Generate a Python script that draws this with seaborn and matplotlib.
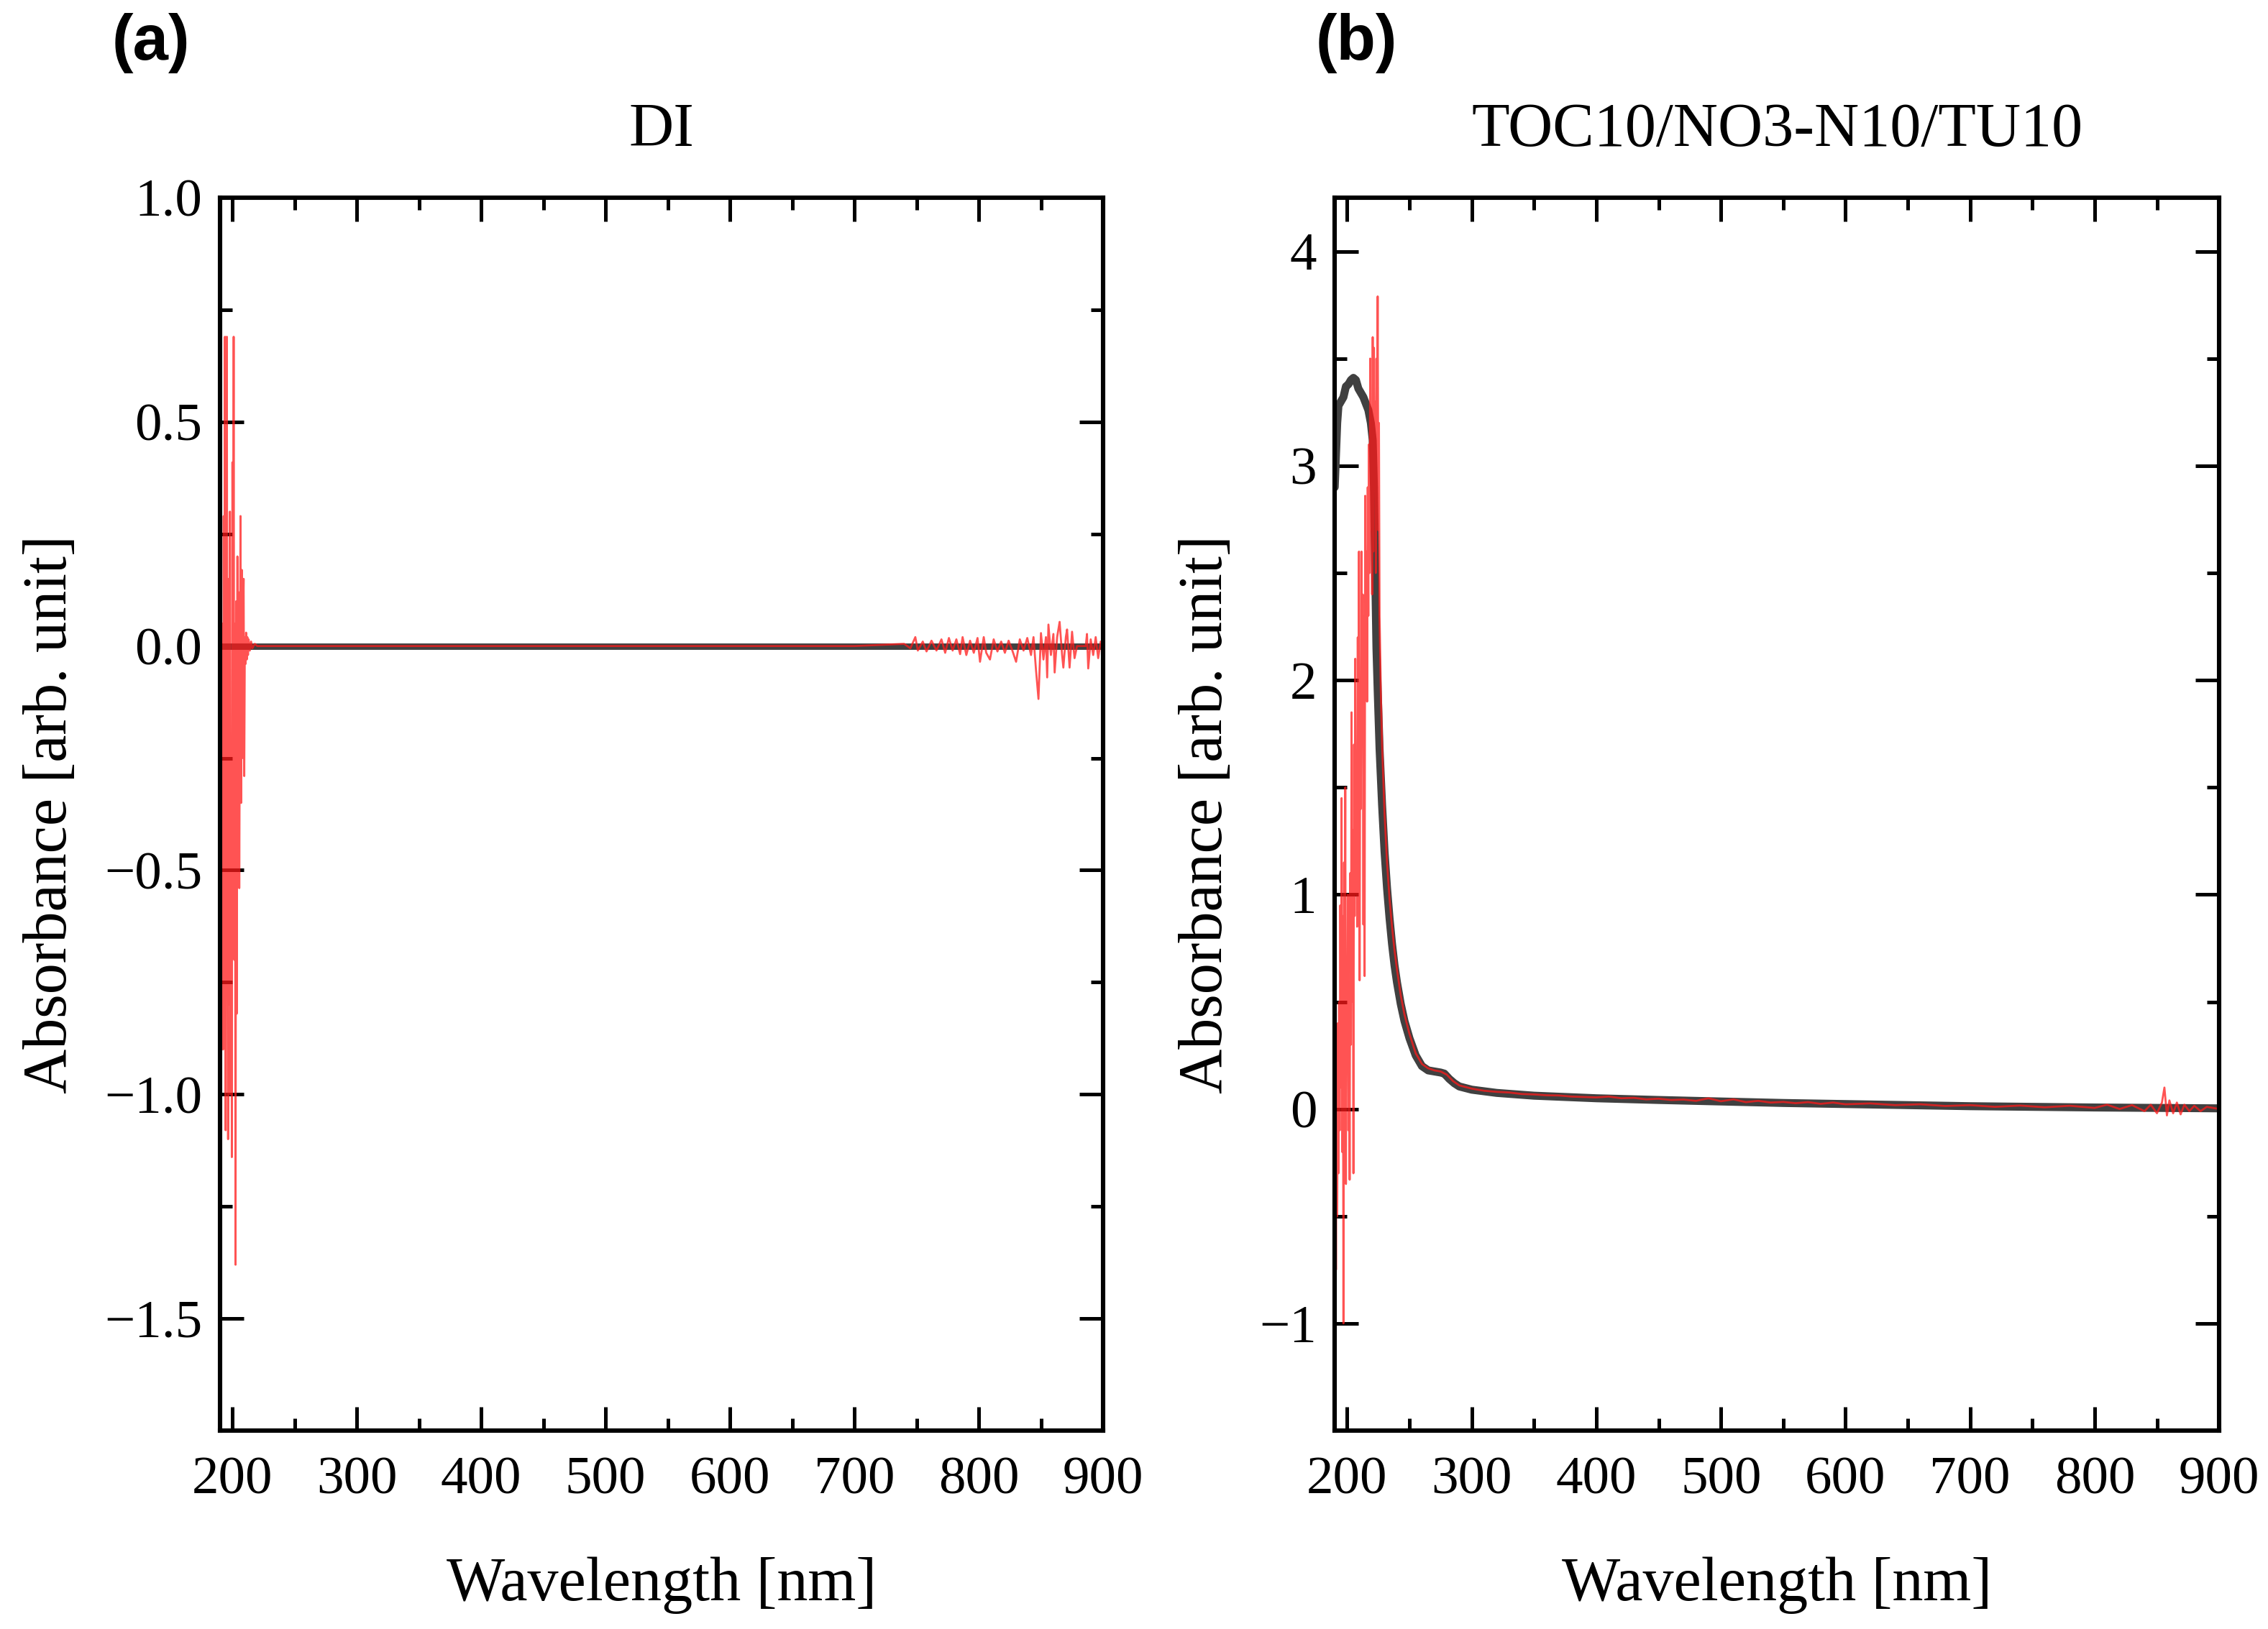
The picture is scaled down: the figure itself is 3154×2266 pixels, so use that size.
import matplotlib
matplotlib.use("Agg")
import matplotlib.pyplot as plt
from matplotlib.ticker import MultipleLocator
import seaborn as sns

# (a) DI - thick grey reference line and noisy red measurement
wl_a_grey = [190, 300, 400, 500, 600, 700, 800, 900]
abs_a_grey = [0, 0, 0, 0, 0, 0, 0, 0]

wl_a_red = [191.0, 191.5, 192.0, 192.5, 193.0, 193.5, 194.0, 194.5, 195.0, 195.5,
            196.0, 196.5, 197.0, 197.5, 198.0, 198.5, 199.0, 199.5, 200.0, 200.5,
            201.0, 201.5, 202.0, 202.5, 203.0, 203.5, 204.0, 204.5, 205.0, 205.5,
            206.0, 206.5, 207.0, 207.5, 208.0, 208.5, 209.0, 209.5, 210.0, 210.5,
            211.0, 211.5, 212.0, 212.5, 213.0, 214.0, 215.0, 216.0, 218.0, 220.0,
            300, 400, 500, 600, 700,
            740, 745, 749, 751, 755, 758, 762, 766, 770, 773, 776, 779, 782, 785,
            787, 790, 793, 796, 799, 801, 804, 806, 809, 812, 815, 818, 821, 824,
            827, 830, 833, 836, 839, 842, 844, 846, 848, 850, 852, 854, 855, 856,
            858, 860, 861, 863, 865, 867, 868, 870, 871, 873, 875, 877, 879, 886,
            887, 888, 890, 892, 894, 896, 898, 900]
abs_a_red = [0.0, -0.6, 0.05, -0.9, 0.29, -0.75, 0.69, -1.08, 0.1, 0.69,
             -0.5, -1.1, 0.15, -0.8, 0.3, -1.0, -0.2, -1.14, 0.41, -0.3,
             0.69, -0.7, 0.05, -1.38, 0.1, -0.82, 0.2, -0.4, 0.12, -0.54,
             -0.1, 0.29, -0.35, 0.17, -0.25, 0.05, 0.15, -0.29, 0.02, -0.04,
             0.03, -0.03, 0.02, -0.02, 0.015, -0.01, 0.01, -0.005, 0.005, 0.0,
             0.0, 0.0, 0.0, 0.0, 0.0,
             0.005, -0.005, 0.02, -0.01, 0.01, -0.012, 0.012, -0.01, 0.015, -0.015,
             0.018, -0.01, 0.015, -0.018, 0.02, -0.02, 0.012, -0.015, 0.018, -0.035,
             0.02, -0.015, -0.03, 0.015, -0.012, 0.01, -0.015, 0.012, -0.01, -0.035,
             0.015, -0.01, 0.018, -0.02, 0.02, -0.053, -0.118, 0.029, -0.03, 0.02,
             -0.07, 0.048, -0.02, 0.027, -0.059, 0.02, 0.054, -0.02, -0.048, 0.02,
             0.037, -0.048, 0.032, -0.027, 0.0, 0.0, 0.027, -0.05, 0.015, -0.02,
             0.02, -0.027, 0.01, 0.0]

# (b) TOC10/NO3-N10/TU10
wl_b_grey = [190, 191, 192, 193, 195, 197, 199, 201, 203, 205, 207, 209, 211, 213,
             215, 217, 219, 220.5, 221.5, 222.5, 223.5, 224.5, 226, 228, 230, 232,
             234, 236, 238, 240, 243, 246, 250, 255, 260, 265, 270, 275, 278, 282,
             286, 290, 300, 320, 350, 400, 450, 500, 550, 600, 650, 700, 750, 800,
             850, 900]
abs_b_grey = [2.9, 3.05, 3.2, 3.28, 3.3, 3.32, 3.37, 3.38, 3.4, 3.41, 3.4, 3.36, 3.34, 3.32,
              3.29, 3.26, 3.2, 3.12, 2.9, 2.5, 2.15, 1.95, 1.68, 1.42, 1.2, 1.03,
              0.89, 0.77, 0.67, 0.59, 0.49, 0.41, 0.33, 0.25, 0.2, 0.18, 0.175, 0.17, 0.165, 0.14,
              0.12, 0.105, 0.09, 0.075, 0.062, 0.05, 0.042, 0.035, 0.028, 0.023, 0.018, 0.013, 0.01, 0.007,
              0.005, 0.003]

wl_b_red = [190.5, 191.0, 191.5, 192.0, 192.5, 193.0, 193.5, 194.0, 194.5, 195.0,
            195.5, 196.0, 196.5, 197.0, 197.5, 198.0, 198.5, 199.0, 199.5, 200.0,
            200.5, 201.0, 201.5, 202.0, 202.5, 203.0, 203.5, 204.0, 204.5, 205.0,
            205.5, 206.0, 206.5, 207.0, 207.5, 208.0, 208.5, 209.0, 209.5, 210.0,
            210.5, 211.0, 211.5, 212.0, 212.5, 213.0, 213.5, 214.0, 214.5, 215.0,
            215.5, 216.0, 216.5, 217.0, 217.5, 218.0, 218.5, 219.0, 219.5, 220.0,
            220.5, 221.0, 221.5, 222.0, 222.5, 223.0, 223.5, 224.0, 224.5, 225.0,
            225.5, 226, 227, 228, 230, 232, 234, 236, 238, 240, 243, 246, 250, 255,
            260, 265, 270, 275, 280, 285, 290, 300, 310, 320, 330, 340, 350, 360,
            370, 380, 390, 400, 410, 420, 430, 440, 450, 460, 470, 480, 490, 500,
            510, 520, 530, 540, 550, 560, 570, 580, 590, 600, 620, 640, 660, 680,
            700, 720, 740, 760, 780, 800, 810, 820, 830, 840, 845, 850, 854, 856,
            858, 860, 863, 866, 869, 872, 876, 880, 885, 890, 895, 900]
abs_b_red = [0.1, -0.75, 0.2, -0.5, 0.4, -0.3, 0.5, -0.1, 0.95, 0.1,
             1.45, -0.2, 0.9, -1.0, 1.15, 0.3, 1.5, -0.35, 0.6, 0.2,
             1.0, -0.1, 0.55, -0.33, 1.1, 0.3, 1.85, 0.5, 1.3, -0.3,
             1.7, 0.9, 2.1, 1.0, 1.6, 0.85, 2.2, 1.3, 2.6, 0.6,
             1.95, 1.4, 2.6, 1.7, 2.4, 0.86, 2.3, 0.62, 2.86, 2.0,
             2.6, 1.9, 2.9, 2.3, 3.1, 2.5, 3.5, 2.7, 3.2, 2.4,
             3.6, 2.6, 3.55, 2.9, 3.3, 2.5, 3.5, 3.0, 3.79, 2.7,
             3.2, 2.3, 1.95, 1.7, 1.38, 1.15, 0.98, 0.85, 0.74, 0.65, 0.53, 0.44, 0.35, 0.26,
             0.21, 0.19, 0.18, 0.175, 0.16, 0.13, 0.11, 0.095, 0.085, 0.08, 0.077, 0.07, 0.068, 0.064,
             0.063, 0.058, 0.056, 0.054, 0.058, 0.05, 0.052, 0.045, 0.048, 0.042, 0.044, 0.038, 0.05, 0.036,
             0.045, 0.032, 0.038, 0.03, 0.033, 0.027, 0.032, 0.024, 0.03, 0.022, 0.026, 0.018, 0.022, 0.014,
             0.018, 0.01, 0.016, 0.008, 0.015, 0.005, 0.02, 0.0, 0.018, -0.01, 0.02, -0.02, 0.03, 0.1,
             -0.03, 0.04, -0.02, 0.03, -0.025, 0.02, -0.01, 0.015, -0.01, 0.01, 0.005, 0.0]

panels = [
    dict(label="(a)", title="DI", gx=wl_a_grey, gy=abs_a_grey, rx=wl_a_red, ry=abs_a_red,
         ylim=(-1.75, 1.0), ymaj=0.5, ymin=0.25, yfmt="{:.1f}", glw=3.2,
         rect=[0.0970, 0.1218, 0.3894, 0.7568], labx=0.0495),
    dict(label="(b)", title="TOC10/NO3-N10/TU10", gx=wl_b_grey, gy=abs_b_grey, rx=wl_b_red, ry=abs_b_red,
         ylim=(-1.5, 4.25), ymaj=1.0, ymin=0.5, yfmt="{:.0f}", glw=4.0,
         rect=[0.5885, 0.1218, 0.3900, 0.7568], labx=0.5800),
]

sns.set_style("ticks")
plt.rcParams['font.family'] = ['Liberation Serif', 'DejaVu Serif']
plt.rcParams['axes.unicode_minus'] = True
plt.rcParams['text.color'] = 'black'
plt.rcParams['axes.labelcolor'] = 'black'
plt.rcParams['xtick.color'] = 'black'
plt.rcParams['ytick.color'] = 'black'

fig = plt.figure(figsize=(15.77, 11.33), dpi=200)

for p in panels:
    ax = fig.add_axes(p["rect"])
    sns.lineplot(x=p["gx"], y=p["gy"], ax=ax, color="#404040", lw=p["glw"],
                 estimator=None, sort=False)
    sns.lineplot(x=p["rx"], y=p["ry"], ax=ax, color="#ff1a1a", lw=1.0, alpha=0.75,
                 estimator=None, sort=False)
    ax.set_xlim(190, 900)
    ax.set_ylim(*p["ylim"])
    ax.xaxis.set_major_locator(MultipleLocator(100))
    ax.xaxis.set_minor_locator(MultipleLocator(50))
    ax.yaxis.set_major_locator(MultipleLocator(p["ymaj"]))
    ax.yaxis.set_minor_locator(MultipleLocator(p["ymin"]))
    ax.set_yticklabels([p["yfmt"].format(v).replace("-", "\u2212") for v in ax.get_yticks()])
    ax.tick_params(which="both", direction="in", top=True, right=True, width=1.8, colors="black")
    ax.tick_params(which="major", length=12, labelsize=27)
    ax.tick_params(axis="y", which="major", pad=9)
    ax.tick_params(axis="x", which="major", pad=13)
    ax.tick_params(which="minor", length=6)
    for s in ax.spines.values():
        s.set_linewidth(2.2)
        s.set_color("black")
    ax.set_xlabel("Wavelength [nm]", fontsize=31, labelpad=26)
    ax.set_ylabel("Absorbance [arb. unit]", fontsize=31, labelpad=12)
    ax.set_title(p["title"], fontsize=31, pad=26)
    fig.text(p["labx"], 0.9735, p["label"], fontsize=32, fontweight="bold",
             family=["Liberation Sans", "DejaVu Sans"], ha="left", va="center")

fig.savefig("out.png", dpi=200, facecolor="white")
